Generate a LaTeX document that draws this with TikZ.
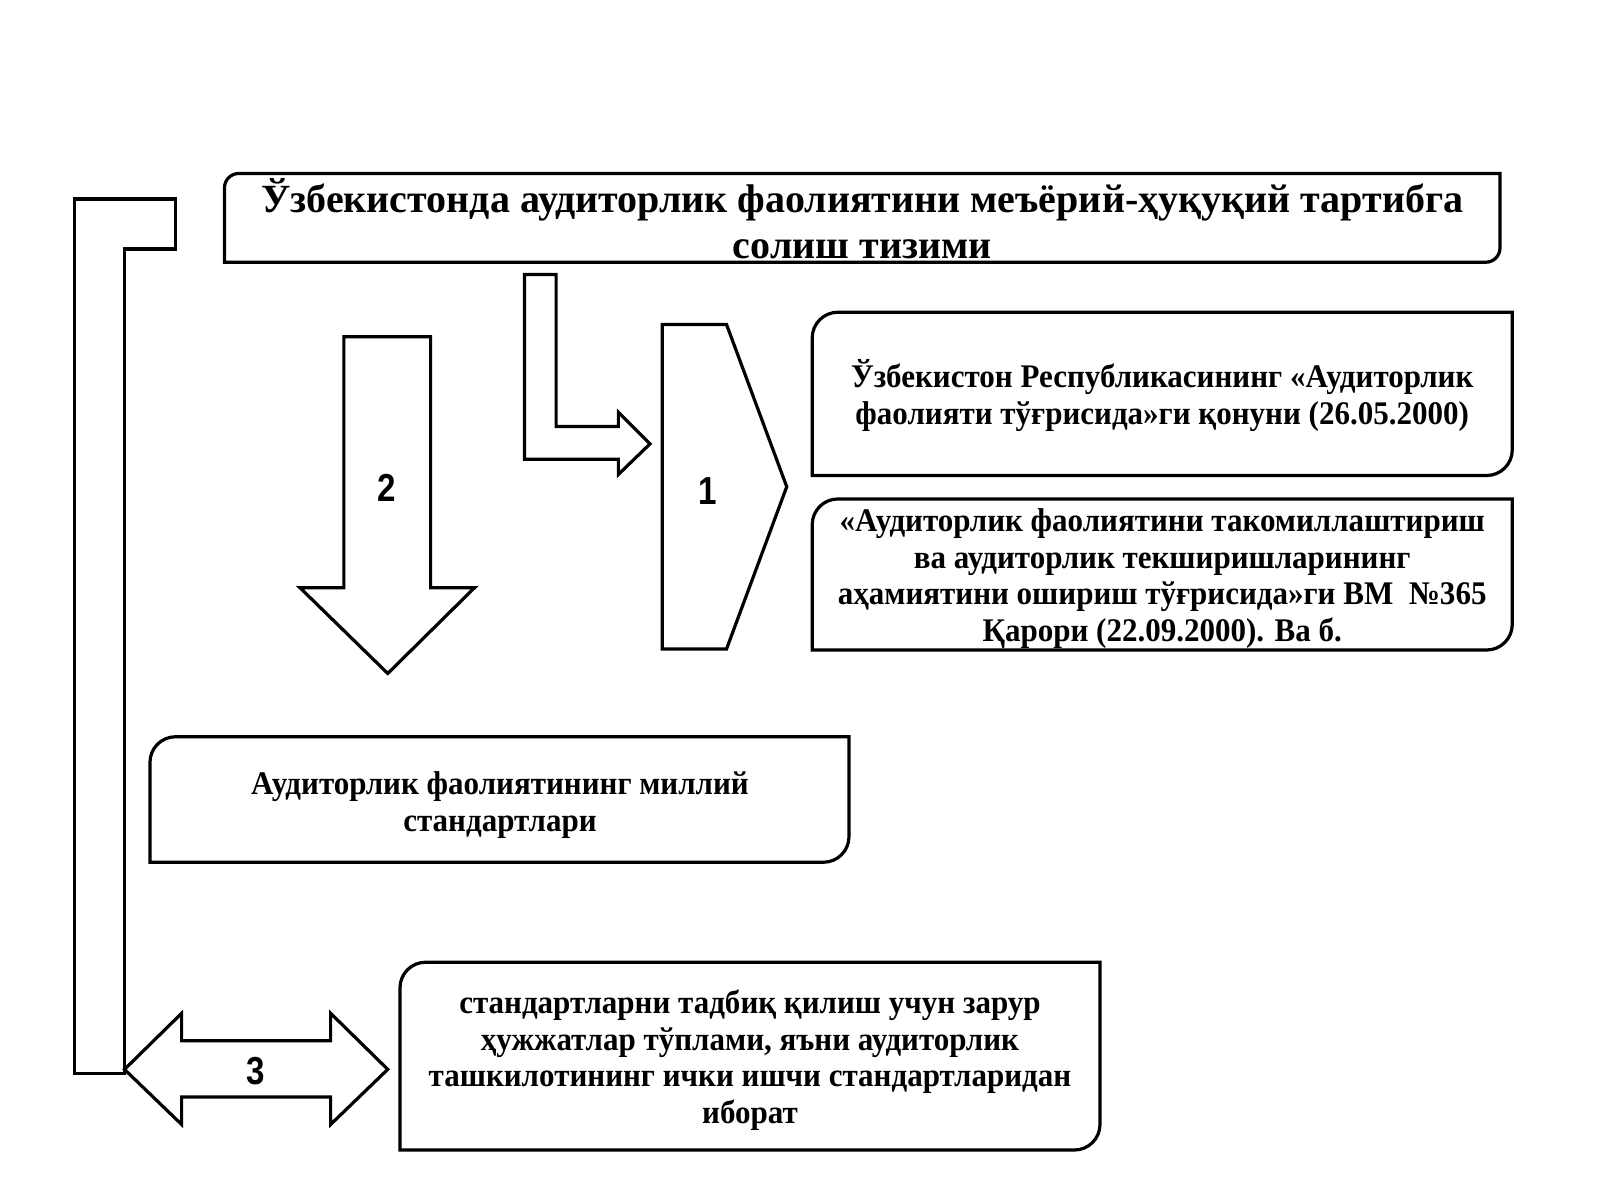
\documentclass[tikz,border=0pt]{standalone}
\usepackage{fontspec}
\setmainfont{Liberation Serif}
\newfontfamily\boxfont[FakeStretch=0.94]{Liberation Serif}
\newfontfamily\titlefont{Liberation Serif}
\newfontfamily\numfont[FakeStretch=0.85]{Liberation Sans}
\newcommand{\diagbox}[5]{%
  \draw[shapeline] (#1,#4) -- (#1,{#2+#5})
    .. controls (#1,{#2+0.45*#5}) and ({#1+0.45*#5},#2) .. ({#1+#5},#2)
    -- (#3,#2) -- (#3,{#4-#5})
    .. controls (#3,{#4-0.45*#5}) and ({#3-0.45*#5},#4) .. ({#3-#5},#4) -- cycle;}
\begin{document}
\begin{tikzpicture}[x=0.510204pt,y=-0.510204pt,
  shapeline/.style={draw=black,line width=1.6pt,line join=miter,fill=white},
  boxtext/.style={align=center,font=\boxfont\bfseries\fontsize{16.5}{18.4}\selectfont,inner sep=0pt},
  titletext/.style={align=center,font=\titlefont\bfseries\fontsize{20}{23}\selectfont,inner sep=0pt},
  numtext/.style={font=\numfont\bfseries\fontsize{19.5}{22}\selectfont,inner sep=0pt}]
\useasboundingbox[fill=white] (0,0) rectangle (1568,1176);
% left bracket
\draw[shapeline] (73,195) -- (172,195) -- (172,244) -- (122,244) -- (122,1052) -- (73,1052) -- cycle;
% title box
\diagbox{220}{170}{1470}{257}{14}
\node[titletext] (title) at (845,214) {Ўзбекистонда аудиторлик фаолиятини меъёрий-ҳуқуқий тартибга\\солиш тизими};
% L arrow
\draw[shapeline] (514,269) -- (545,269) -- (545,418) -- (606,418) -- (606,404) -- (637,435) -- (606,465) -- (606,450) -- (514,450) -- cycle;
% down arrow 2
\draw[shapeline] (337,330) -- (422,330) -- (422,576) -- (465,576) -- (380,660) -- (294,576) -- (337,576) -- cycle;
\node[numtext] (n2) at (379,478) {2};
% pentagon 1
\draw[shapeline] (649,318) -- (712,318) -- (771,477) -- (712,636) -- (649,636) -- cycle;
\node[numtext] (n1) at (694,481) {1};
% box A
\diagbox{796}{306}{1482}{466}{25}
\node[boxtext] (ta) at (1139,388) {Ўзбекистон Республикасининг «Аудиторлик\\фаолияти тўғрисида»ги қонуни (26.05.2000)};
% box B
\diagbox{796}{489}{1482}{637}{25}
\node[boxtext] (tb) at (1139,567) {«Аудиторлик фаолиятини такомиллаштириш\\ва аудиторлик текширишларининг\\аҳамиятини ошириш тўғрисида»ги ВМ \ №365\\Қарори (22.09.2000). Ва б.};
% box C
\diagbox{147}{722}{832}{845}{25}
\node[boxtext] (tc) at (490,789) {Аудиторлик фаолиятининг миллий\\стандартлари};
% double arrow 3
\draw[shapeline] (122,1048) -- (178,993) -- (178,1020) -- (324,1020) -- (324,993) -- (380,1048) -- (324,1102) -- (324,1075) -- (178,1075) -- (178,1102) -- cycle;
\node[numtext] (n3) at (251,1050) {3};
% box D
\diagbox{392}{943}{1078}{1127}{25}
\node[boxtext] (td) at (735,1039) {стандартларни тадбиқ қилиш учун зарур\\ҳужжатлар тўплами, яъни аудиторлик\\ташкилотининг ички ишчи стандартларидан\\иборат};
\end{tikzpicture}
\end{document}
